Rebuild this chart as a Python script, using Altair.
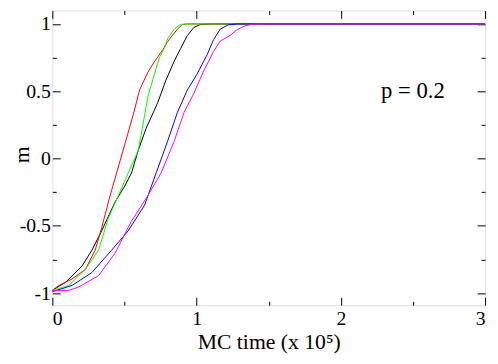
import altair as alt
import pandas as pd

names = ["black", "red", "green", "blue", "magenta"]
colors = ["#000000", "#ff0000", "#00ff00", "#0000ff", "#ff00ff"]

black_x = [0, 0.092, 0.205, 0.274, 0.342, 0.434, 0.502, 0.548, 0.594, 0.65, 0.73, 0.787, 0.845, 0.89, 0.936, 0.981, 1.025, 1.107, 3.0]
black_y = [-0.98, -0.919, -0.8, -0.681, -0.538, -0.324, -0.204, -0.109, 0.057, 0.224, 0.414, 0.581, 0.724, 0.819, 0.914, 0.974, 0.996, 1.0, 1.0]

red_x = [0, 0.046, 0.137, 0.229, 0.297, 0.342, 0.4, 0.445, 0.502, 0.559, 0.605, 0.662, 0.708, 0.765, 0.799, 0.867, 0.901, 0.936, 3.0]
red_y = [-0.98, -0.943, -0.895, -0.824, -0.681, -0.514, -0.276, -0.109, 0.105, 0.319, 0.51, 0.641, 0.72, 0.807, 0.869, 0.962, 0.996, 1.0, 1.0]

green_x = [0, 0.114, 0.229, 0.32, 0.388, 0.457, 0.525, 0.594, 0.628, 0.662, 0.708, 0.742, 0.776, 0.799, 0.845, 0.888, 0.936, 3.0]
green_y = [-0.98, -0.943, -0.824, -0.681, -0.443, -0.276, -0.109, 0.057, 0.248, 0.462, 0.629, 0.748, 0.819, 0.891, 0.962, 0.996, 1.0, 1.0]

blue_x = [0, 0.137, 0.274, 0.411, 0.525, 0.639, 0.719, 0.799, 0.867, 0.936, 1.004, 1.073, 1.118, 1.164, 1.221, 1.278, 3.0]
blue_y = [-0.99, -0.943, -0.847, -0.681, -0.538, -0.347, -0.109, 0.129, 0.343, 0.51, 0.629, 0.771, 0.884, 0.962, 0.994, 1.0, 1.0]

magenta_x = [0, 0.114, 0.183, 0.32, 0.434, 0.548, 0.662, 0.753, 0.845, 0.913, 0.982, 1.05, 1.118, 1.164, 1.232, 1.278, 1.335, 1.401, 3.0]
magenta_y = [-0.98, -0.98, -0.954, -0.871, -0.704, -0.466, -0.276, -0.109, 0.129, 0.343, 0.486, 0.653, 0.796, 0.873, 0.914, 0.955, 0.986, 1.0, 1.0]

x_ticks = [0, 0.5, 1, 1.5, 2, 2.5, 3]
y_ticks = [-1, -0.75, -0.5, -0.25, 0, 0.25, 0.5, 0.75, 1]

label_text = ["p = 0.2"]
label_x = [2.5]
label_y = [0.5]

series = [
    ("s1", black_x, black_y),
    ("s2", red_x, red_y),
    ("s3", green_x, green_y),
    ("s4", blue_x, blue_y),
    ("s5", magenta_x, magenta_y),
]
rows = []
for sid, xs_, ys_ in series:
    for i, (xv, yv) in enumerate(zip(xs_, ys_)):
        rows.append({"s": sid, "i": i, "t": xv, "m": yv})
df = pd.DataFrame(rows)

FONT = "Liberation Serif"
major_x = "datum.value % 1 == 0"
major_y = "datum.value % 0.5 == 0"

PLOT_H = 299
xs = alt.Scale(domain=[0, 3], nice=False, zero=False)
ys = alt.Scale(domain=[-1.09, 1.1], nice=False, zero=False)

x_bottom = alt.Axis(
    orient="bottom", values=x_ticks, grid=False, domain=False,
    labelExpr=f"{major_x} ? '' + datum.value : ''",
    tickSize={"expr": f"{major_x} ? -8 : -4"},
    labelPadding=12, labelFont=FONT, labelFontSize=20, labelColor="black",
    tickColor="black", title="MC time (x 10\u2075)", titleFont=FONT,
    titleFontSize=22, titleFontWeight="normal", titleColor="black",
    titleBaseline="alphabetic", titleY=44,
)
y_left = alt.Axis(
    orient="left", values=y_ticks, grid=False, domain=False,
    labelExpr=f"{major_y} ? '' + datum.value : ''",
    tickSize={"expr": f"{major_y} ? -8 : -4"},
    labelPadding=10, labelFont=FONT, labelFontSize=20, labelColor="black",
    tickColor="black", title="m", titleFont=FONT, titleFontSize=22,
    titleFontWeight="normal", titleColor="black",
    titleAngle=-90, titleBaseline="alphabetic", titleAlign="center",
    titleX=-24, titleY=146,
)
x_top = alt.Axis(
    orient="top", values=x_ticks, grid=False, domain=False, labels=False,
    tickSize={"expr": f"{major_x} ? -8 : -4"}, tickColor="black", title=None,
)
y_right = alt.Axis(
    orient="right", values=y_ticks, grid=False, domain=False, labels=False,
    tickSize={"expr": f"{major_y} ? -8 : -4"}, tickColor="black", title=None,
)

lines = alt.Chart(df).mark_line(strokeWidth=1, interpolate="linear").encode(
    x=alt.X("t:Q", scale=xs, axis=x_bottom),
    y=alt.Y("m:Q", scale=ys, axis=y_left),
    color=alt.Color("s:N", scale=alt.Scale(domain=["s1", "s2", "s3", "s4", "s5"], range=colors), legend=None),
    order="i:Q",
)

mirror = alt.Chart(df).mark_point(opacity=0).encode(
    x=alt.X("t:Q", scale=xs, axis=x_top),
    y=alt.Y("m:Q", scale=ys, axis=y_right),
)

tdf = pd.DataFrame({"t": label_x, "m": label_y, "txt": label_text})
text = alt.Chart(tdf).mark_text(font=FONT, fontSize=23, color="black", align="center", baseline="middle").encode(
    x=alt.X("t:Q", scale=xs, axis=None),
    y=alt.Y("m:Q", scale=ys, axis=None),
    text="txt:N",
)

chart = alt.layer(lines, mirror, text).resolve_axis(
    x="independent", y="independent"
).properties(
    width=439, height=PLOT_H,
    autosize=alt.AutoSizeParams(type="none"),
    padding={"left": 45, "top": 0, "right": 5, "bottom": 50},
).configure_view(stroke="black", strokeWidth=1).configure(background="white")

chart.save("out.html", embed_options={"renderer": "svg", "actions": False})
